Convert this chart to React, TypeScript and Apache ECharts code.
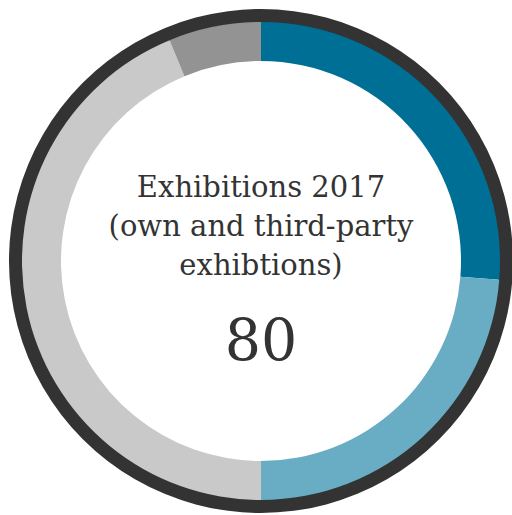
import React, { useEffect, useRef } from "react";
import * as echarts from "echarts";

const categories = ["Segment 1", "Segment 2", "Segment 3", "Segment 4"];
const values = [21, 19, 35, 5];
const colors = ["#006f95", "#68adc3", "#c9c9c9", "#939393"];
const titleLines = ["Exhibitions 2017", "(own and third-party", "exhibtions)"];
const totalLabel = "80";

export default function App() {
  const ref = useRef<HTMLDivElement>(null);
  useEffect(() => {
    document.body.style.margin = "0";
    const chart = echarts.init(ref.current!, undefined, { renderer: "svg" });
    const font = "'DejaVu Serif', Georgia, serif";
    chart.setOption({
      animation: false,
      backgroundColor: "#ffffff",
      series: [
        {
          type: "pie",
          silent: true,
          center: [261, 261],
          radius: [238, 252],
          label: { show: false },
          labelLine: { show: false },
          itemStyle: { color: "#333333" },
          data: [{ name: "ring", value: 1 }],
        },
        {
          type: "pie",
          silent: true,
          center: [261, 261],
          radius: [200, 239],
          startAngle: 90,
          clockwise: true,
          label: { show: false },
          labelLine: { show: false },
          data: categories.map((c, i) => ({
            name: c,
            value: values[i],
            itemStyle: { color: colors[i] },
          })),
        },
      ],
      graphic: [
        ...titleLines.map((t, i) => ({
          type: "text",
          x: 261,
          y: [187, 226, 265][i],
          style: {
            text: t,
            fill: "#333333",
            font: `29px ${font}`,
            textAlign: "center",
            textVerticalAlign: "middle",
          },
        })),
        {
          type: "text",
          x: 261,
          y: 340,
          style: {
            text: totalLabel,
            fill: "#333333",
            font: `57px ${font}`,
            textAlign: "center",
            textVerticalAlign: "middle",
          },
        },
      ],
    });
    return () => chart.dispose();
  }, []);
  return (
    <div
      ref={ref}
      style={{ position: "absolute", left: 0, top: 0, width: 512, height: 515 }}
    />
  );
}
